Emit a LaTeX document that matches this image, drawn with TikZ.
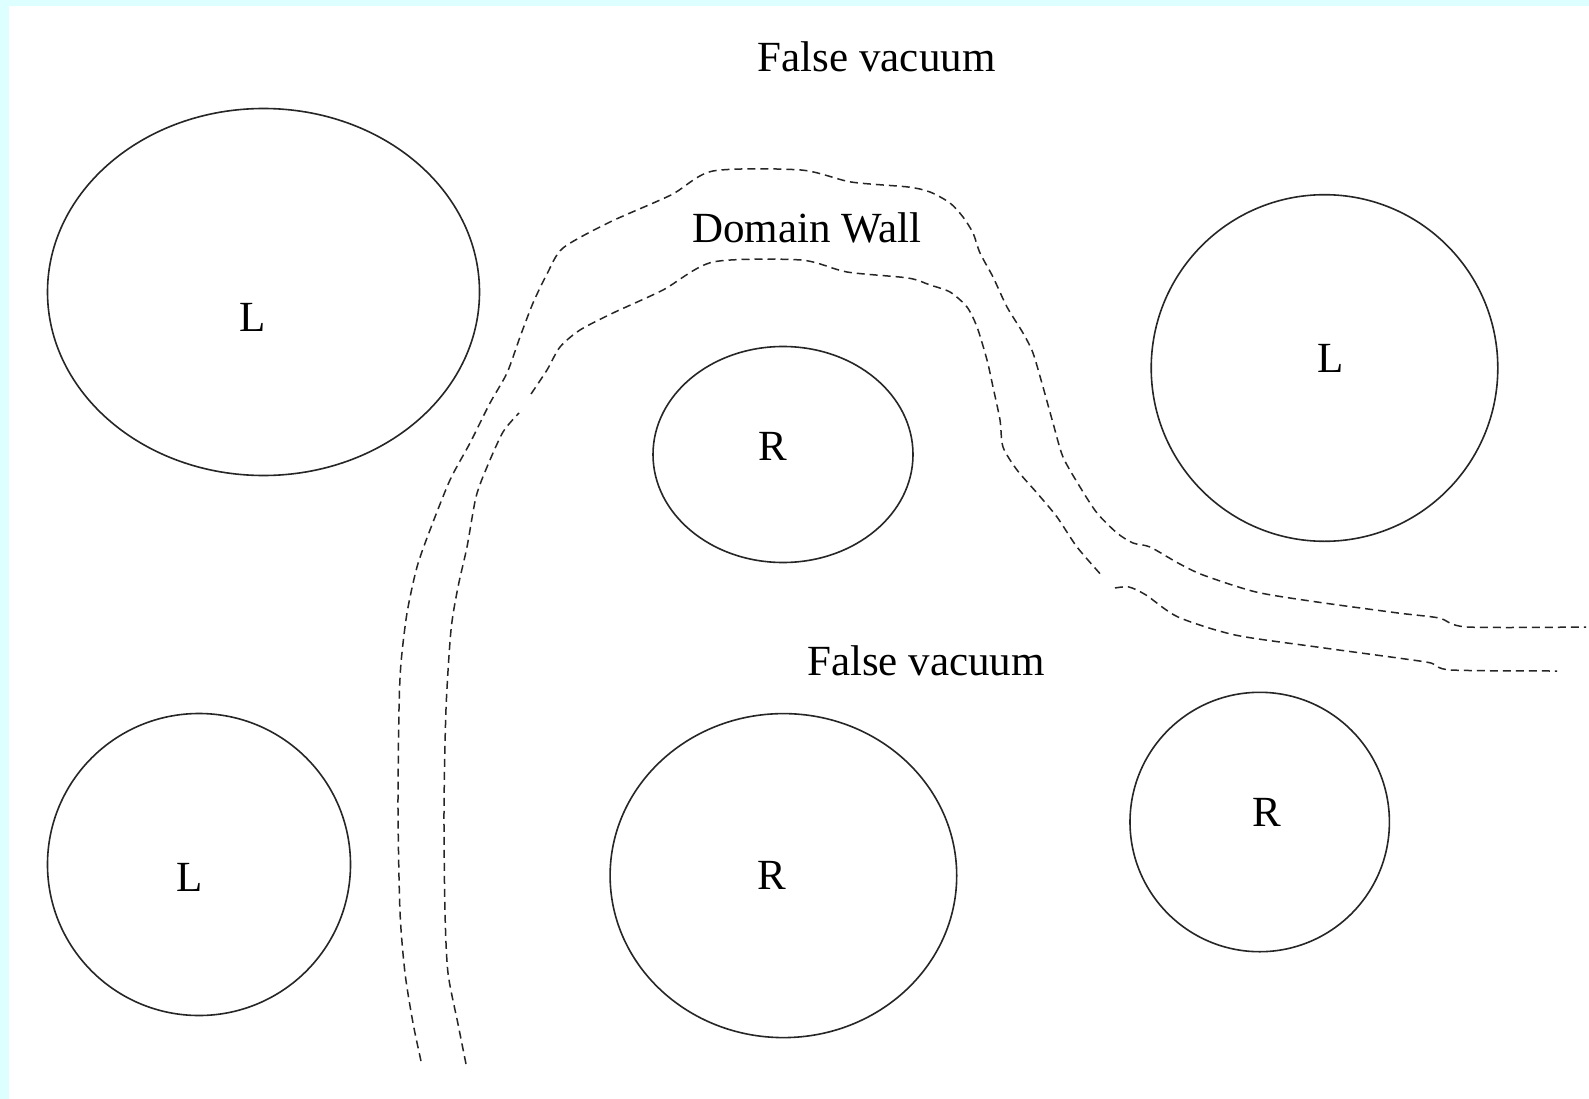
\documentclass[tikz,border=0pt]{standalone}
\usepackage{fontspec}
\setmainfont{Liberation Serif}
\definecolor{bgcyan}{RGB}{221,255,255}
\begin{document}
\begin{tikzpicture}[x=1pt,y=-1pt,
  bubble/.style={draw=black!85,line width=1.6pt},
  wall/.style={draw=black!85,line width=1.5pt,dash pattern=on 8pt off 5pt},
  lbl/.style={inner sep=0pt,font=\fontsize{43}{50}\selectfont}]
\useasboundingbox (0,0) rectangle (1589,1099);
\fill[bgcyan] (0,0) rectangle (1589,1099);
\fill[white] (9,6) rectangle (1589,1099);
% bubbles
\draw[bubble] (263.5,292) ellipse [x radius=216, y radius=183.5];
\draw[bubble] (783,454.5) ellipse [x radius=130, y radius=108];
\draw[bubble] (1324.5,368) ellipse [x radius=173.3, y radius=173.3];
\draw[bubble] (199,864.5) ellipse [x radius=151.5, y radius=151];
\draw[bubble] (783.4,875.6) ellipse [x radius=173.3, y radius=162];
\draw[bubble] (1259.7,822) ellipse [x radius=129.7, y radius=129.7];
% labels
\node[lbl] (l1) at (253,317) {L};
\node[lbl] (r1) at (773,446) {R};
\node[lbl] (l2) at (1330.5,358) {L};
\node[lbl] (l3) at (189.5,877.6) {L};
\node[lbl] (r2) at (772,875.6) {R};
\node[lbl] (r3) at (1267,812.7) {R};
\node[lbl] (fv1) at (876.6,56.7) {False vacuum};
\node[lbl] (dw) at (806.7,228) {Domain Wall};
\node[lbl] (fv2) at (926,660.7) {False vacuum};
% domain wall, outer boundary
\draw[wall] plot[smooth,tension=0.45] coordinates {
(421,1061) (413,1023) (405,973) (400,912) (398,811) (399,709) (401,663)
(407,613) (417,567) (430,530) (450,480) (470,443) (490,403) (507,373)
(520,337) (533,303) (547,274) (563,248) (610,222) (671,195) (713,171)
(801,170) (851,182) (908,187) (930,192) (950,203) (963,217) (973,233)
(980,253) (993,277) (1007,307) (1023,333) (1033,353) (1043,387)
(1053,423) (1063,457) (1080,487) (1097,513) (1117,533) (1133,543)
(1150,547) (1178,563) (1203,575) (1256,592) (1317,602)
(1398,613) (1439,618) (1467,627) (1586,627)};
% domain wall, inner boundary
\draw[wall] plot[smooth,tension=0.45] coordinates {
(466,1064) (458,1024) (448,973) (445,912) (444,811) (446,709) (451,630)
(458,587) (467,547) (476,497) (487,467) (503,432) (519,413)};
\draw[wall] plot[smooth,tension=0.45] coordinates {
(531,394) (547,370) (560,347) (580,330) (613,313) (663,290) (713,262)
(801,260) (847,272) (908,278) (930,285) (950,292) (967,307) (977,327)
(987,360) (993,387) (1000,420) (1003,447) (1017,470) (1037,493)
(1057,517) (1077,547) (1103,577)};
\draw[wall] plot[smooth,tension=0.45] coordinates {
(1115,588) (1129,587) (1146,595) (1178,617) (1235,635) (1317,647)
(1398,658) (1431,663) (1451,670) (1557,671)};
\end{tikzpicture}
\end{document}
